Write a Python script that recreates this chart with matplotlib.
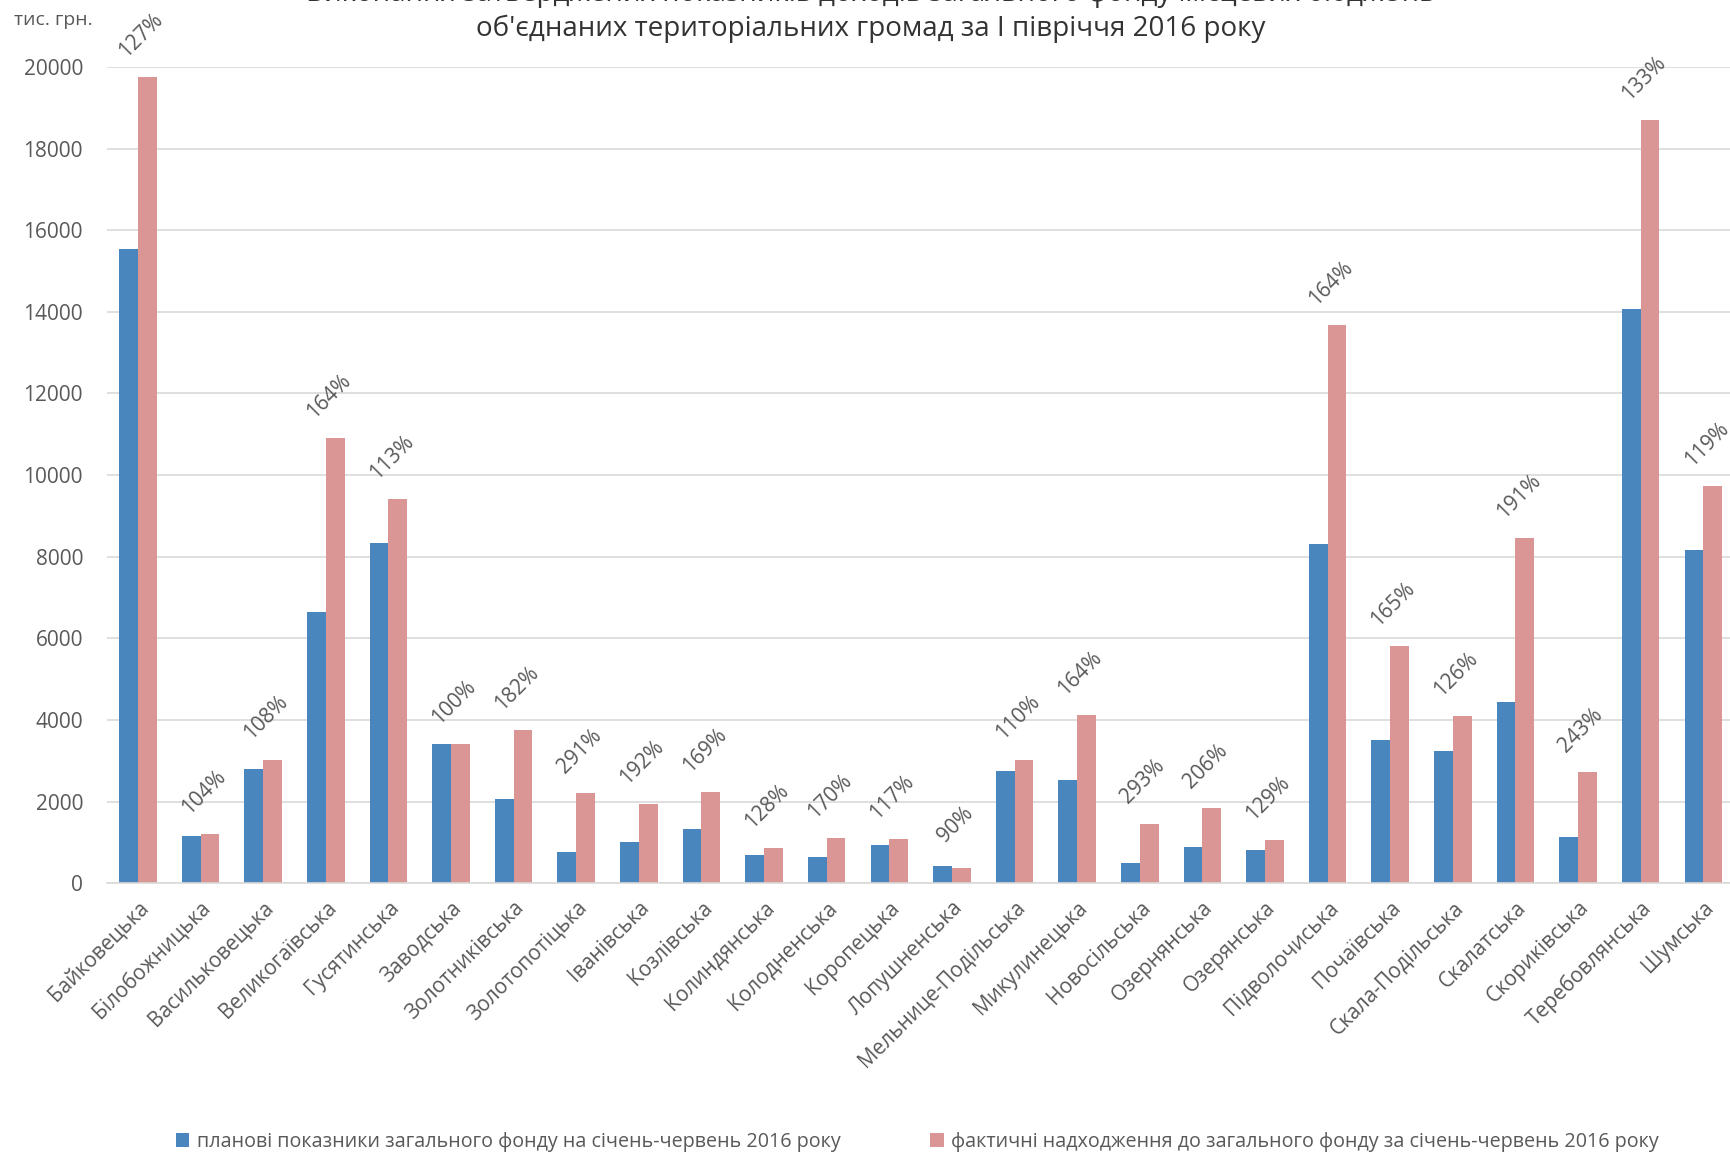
import matplotlib.pyplot as plt
import numpy as np

plt.rcParams['font.family'] = ['Open Sans', 'DejaVu Sans']

communities = ['Байковецька', 'Білобожницька', 'Васильковецька', 'Великогаївська',
               'Гусятинська', 'Заводська', 'Золотниківська', 'Золотопотіцька',
               'Іванівська', 'Козлівська', 'Колиндянська', 'Колодненська',
               'Коропецька', 'Лопушненська', 'Мельнице-Подільська', 'Микулинецька',
               'Новосільська', 'Озернянська', 'Озерянська', 'Підволочиська',
               'Почаївська', 'Скала-Подільська', 'Скалатська', 'Скориківська',
               'Теребовлянська', 'Шумська']
planned = [15550, 1150, 2810, 6640, 8340, 3410, 2060, 760, 1010, 1320, 680, 650,
           930, 420, 2740, 2520, 500, 890, 810, 8310, 3520, 3250, 4440, 1120,
           14070, 8170]
actual = [19760, 1200, 3030, 10910, 9420, 3410, 3750, 2220, 1950, 2240, 870, 1110,
          1090, 380, 3030, 4110, 1460, 1840, 1050, 13670, 5800, 4090, 8450, 2720,
          18700, 9720]
percent = ['127%', '104%', '108%', '164%', '113%', '100%', '182%', '291%', '192%',
           '169%', '128%', '170%', '117%', '90%', '110%', '164%', '293%', '206%',
           '129%', '164%', '165%', '126%', '191%', '243%', '133%', '119%']

blue = '#4A86BE'
pink = '#D99694'
grey = '#595959'

fig = plt.figure(figsize=(17.31, 11.53), dpi=100)
ax = fig.add_axes([0.0616, 0.234, 0.9405, 0.708])

x = np.arange(len(communities))
w = 0.3
ax.bar(x - w / 2, planned, w, color=blue, label='планові показники загального фонду на січень-червень 2016 року')
ax.bar(x + w / 2, actual, w, color=pink, label='фактичні надходження до загального фонду за січень-червень 2016 року')

for i, p in enumerate(percent):
    top = max(planned[i], actual[i])
    ax.annotate(p, (x[i] + 0.05, top), xytext=(0, 30), textcoords='offset points',
                rotation=45, ha='center', va='center', fontsize=15, color=grey,
                annotation_clip=False)

ax.set_xlim(-0.5, len(communities) - 0.5)
ax.set_ylim(0, 20000)
ax.set_yticks(range(0, 20001, 2000))
ax.set_xticks(x)
ax.set_xticklabels(communities, rotation=45, ha='right', rotation_mode='anchor')
ax.tick_params(length=0, labelsize=15, colors=grey)
ax.tick_params(axis='y', pad=17)
ax.tick_params(axis='x', pad=10)
ax.grid(axis='y', color='#D9D9D9', linewidth=1.2)
ax.set_axisbelow(True)
for s in ['top', 'right', 'left']:
    ax.spines[s].set_visible(False)
ax.spines['bottom'].set_color('#D9D9D9')
ax.spines['bottom'].set_linewidth(1.2)

fig.text(0.503, 1.0 + 6 / 1153,
         'Виконання затверджених показників доходів загального фонду місцевих бюджетів',
         ha='center', va='center', fontsize=20, color='#333333')
fig.text(0.503, 1.0 - 29 / 1153,
         "об'єднаних територіальних громад за І півріччя 2016 року",
         ha='center', va='center', fontsize=20, color='#333333')
fig.text(0.008, 1.0 - 20 / 1153, 'тис. грн.', ha='left', va='center', fontsize=14, color=grey)

leg = fig.legend(loc='center', bbox_to_anchor=(0.53, 1.0 - 1142 / 1153), ncol=2,
                 frameon=False, fontsize=14.2, handlelength=0.7, handleheight=0.7,
                 handletextpad=0.4, columnspacing=4.5)
for t in leg.get_texts():
    t.set_color(grey)

fig.savefig('out.png', dpi=100)
